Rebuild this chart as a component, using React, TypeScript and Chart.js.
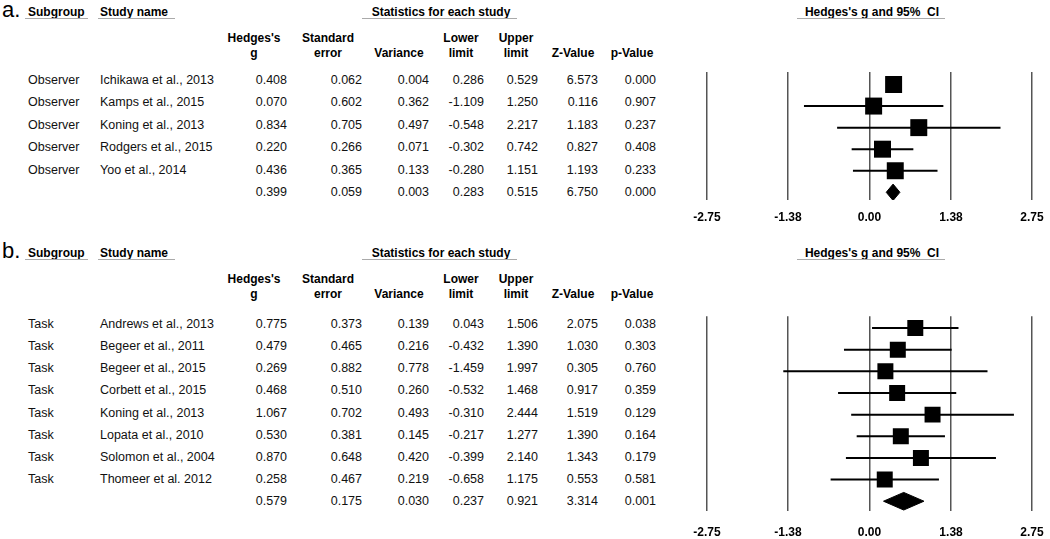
import React, { useEffect, useRef } from "react";
import { Chart, registerables } from "chart.js";

Chart.register(...registerables);

// ---------- DATA ----------
const subgroupA = ["Observer", "Observer", "Observer", "Observer", "Observer"];
const studiesA = ["Ichikawa et al., 2013", "Kamps et al., 2015", "Koning et al., 2013", "Rodgers et al., 2015", "Yoo et al., 2014"];
const hedgesA = [0.408, 0.07, 0.834, 0.22, 0.436];
const seA = [0.062, 0.602, 0.705, 0.266, 0.365];
const varA = [0.004, 0.362, 0.497, 0.071, 0.133];
const lowerA = [0.286, -1.109, -0.548, -0.302, -0.28];
const upperA = [0.529, 1.25, 2.217, 0.742, 1.151];
const zA = [6.573, 0.116, 1.183, 0.827, 1.193];
const pA = [0.0, 0.907, 0.237, 0.408, 0.233];
const summaryA = [0.399, 0.059, 0.003, 0.283, 0.515, 6.75, 0.0]; // g, se, var, low, up, z, p

const subgroupB = ["Task", "Task", "Task", "Task", "Task", "Task", "Task", "Task"];
const studiesB = ["Andrews et al., 2013", "Begeer et al., 2011", "Begeer et al., 2015", "Corbett et al., 2015", "Koning et al., 2013", "Lopata et al., 2010", "Solomon et al., 2004", "Thomeer et al. 2012"];
const hedgesB = [0.775, 0.479, 0.269, 0.468, 1.067, 0.53, 0.87, 0.258];
const seB = [0.373, 0.465, 0.882, 0.51, 0.702, 0.381, 0.648, 0.467];
const varB = [0.139, 0.216, 0.778, 0.26, 0.493, 0.145, 0.42, 0.219];
const lowerB = [0.043, -0.432, -1.459, -0.532, -0.31, -0.217, -0.399, -0.658];
const upperB = [1.506, 1.39, 1.997, 1.468, 2.444, 1.277, 2.14, 1.175];
const zB = [2.075, 1.03, 0.305, 0.917, 1.519, 1.39, 1.343, 0.553];
const pB = [0.038, 0.303, 0.76, 0.359, 0.129, 0.164, 0.179, 0.581];
const summaryB = [0.579, 0.175, 0.03, 0.237, 0.921, 3.314, 0.001];

const xTickValues = [-2.75, -1.38, 0, 1.38, 2.75];
const xTickLabels = ["-2.75", "-1.38", "0.00", "1.38", "2.75"];

const colHeaders = [
  ["Hedges's", "g"],
  ["Standard", "error"],
  ["", "Variance"],
  ["Lower", "limit"],
  ["Upper", "limit"],
  ["", "Z-Value"],
  ["", "p-Value"],
];

// ---------- LAYOUT ----------
const FONT = '"Liberation Sans", Arial, Helvetica, sans-serif';
const W = 1050;
const H = 539;
const colRight = [287, 362, 429, 484, 538, 598, 656];
const colCenter = [254, 328, 399, 461, 516, 573, 632];

Chart.defaults.font.family = FONT;

type ForestProps = {
  g: number[];
  low: number[];
  up: number[];
  summary: number[];
  top: number;
  areaTop: number;
  areaBottom: number;
  firstRow: number;
  spacing: number;
  axisH: number;
  labelPad: number;
  squareR: number;
  diamondHalfPx: number;
};

function Forest(p: ForestProps) {
  const ref = useRef<HTMLCanvasElement | null>(null);
  const left = 690;
  const width = W - left;
  const padTop = p.areaTop - p.top;
  const height = padTop + (p.areaBottom - p.areaTop) + p.axisH;

  useEffect(() => {
    if (!ref.current) return;
    const n = p.g.length;
    const yMin = 1 - (p.firstRow - p.areaTop) / p.spacing;
    const yMax = 1 + (p.areaBottom - p.firstRow) / p.spacing;
    const dh = p.diamondHalfPx / p.spacing;
    const sumRow = n + 1;
    const [sG, , , sLow, sUp] = p.summary;

    const ciSets = p.g.map((_, i) => ({
      data: [
        { x: p.low[i], y: i + 1 },
        { x: p.up[i], y: i + 1 },
      ],
      borderColor: "#000",
      borderWidth: 2,
      pointRadius: 0,
      fill: false,
      order: 3,
    }));
    const squares = {
      data: p.g.map((v, i) => ({ x: v, y: i + 1 })),
      showLine: false,
      pointStyle: "rect",
      pointRadius: p.squareR,
      pointBackgroundColor: "#000",
      pointBorderWidth: 0,
      order: 0,
    };
    const dTop = {
      data: [
        { x: sLow, y: sumRow },
        { x: sG, y: sumRow - dh },
        { x: sUp, y: sumRow },
      ],
      borderColor: "#000",
      borderWidth: 1,
      pointRadius: 0,
      fill: false,
      order: 1,
    };
    const dBot = {
      data: [
        { x: sLow, y: sumRow },
        { x: sG, y: sumRow + dh },
        { x: sUp, y: sumRow },
      ],
      borderColor: "#000",
      borderWidth: 1,
      backgroundColor: "#000",
      pointRadius: 0,
      fill: "-1",
      order: 1,
    };

    const chart = new Chart(ref.current, {
      type: "line",
      data: { datasets: [...ciSets, squares, dTop, dBot] as any },
      options: {
        animation: false,
        responsive: false,
        devicePixelRatio: 1,
        events: [],
        layout: { padding: { left: 17, right: 18, top: padTop, bottom: 0 } },
        plugins: { legend: { display: false }, tooltip: { enabled: false } },
        elements: { line: { tension: 0 } },
        scales: {
          x: {
            type: "linear",
            min: -2.75,
            max: 2.75,
            afterBuildTicks: (s: any) => {
              s.ticks = xTickValues.map((v) => ({ value: v }));
            },
            afterFit: (s: any) => {
              s.paddingLeft = 0;
              s.paddingRight = 0;
              s.height = p.axisH;
            },
            grid: { color: "#555", lineWidth: 1.5, drawTicks: false },
            border: { display: false },
            ticks: {
              padding: p.labelPad,
              color: "#000",
              autoSkip: false,
              maxRotation: 0,
              font: { family: FONT, size: 12, weight: "bold" },
              callback: (_v: any, i: number) => xTickLabels[i],
            },
          },
          y: { type: "linear", display: false, reverse: true, min: yMin, max: yMax },
        },
      } as any,
    });
    return () => chart.destroy();
  }, []);

  return (
    <canvas
      ref={ref}
      width={width}
      height={height}
      style={{ position: "absolute", left, top: p.top, width, height }}
    />
  );
}

const txt = (
  key: string,
  text: string,
  x: number,
  cy: number,
  align: "left" | "right" | "center",
  size: number,
  bold: boolean
) => {
  const base: any = {
    position: "absolute",
    top: cy - 9,
    height: 18,
    lineHeight: "18px",
    fontSize: size,
    fontWeight: bold ? "bold" : "normal",
    whiteSpace: "pre",
    color: bold ? "#000" : "#111",
  };
  if (align === "left") base.left = x;
  else if (align === "right") {
    base.left = x - 120;
    base.width = 120;
    base.textAlign = "right";
  } else {
    base.left = x - 150;
    base.width = 300;
    base.textAlign = "center";
  }
  return (
    <div key={key} style={base}>
      {text}
    </div>
  );
};

const uline = (key: string, x1: number, x2: number, y: number) => (
  <div key={key} style={{ position: "absolute", left: x1, top: y, width: x2 - x1, height: 1, background: "#aaa" }} />
);

function Table(props: {
  letter: string;
  off: number;
  firstRow: number;
  spacing: number;
  subgroup: string[];
  studies: string[];
  cols: number[][];
  summary: number[];
}) {
  const { letter, off, firstRow, spacing, subgroup, studies, cols, summary } = props;
  const els: any[] = [];
  els.push(
    <div
      key="letter"
      style={{ position: "absolute", left: 2, top: off - 1, fontSize: 22, lineHeight: "22px", color: "#000" }}
    >
      {letter}
    </div>
  );
  els.push(txt("sg", "Subgroup", 28, off + 12, "left", 12, true));
  els.push(txt("sn", "Study name", 100, off + 12, "left", 12, true));
  els.push(txt("st", "Statistics for each study", 441, off + 12, "center", 12, true));
  els.push(txt("hg", "Hedges's g and 95%  CI", 872, off + 12, "center", 12, true));
  els.push(uline("u1", 25, 88, off + 18));
  els.push(uline("u2", 98, 175, off + 18));
  els.push(uline("u3", 362, 517, off + 18));
  els.push(uline("u4", 797, 945, off + 18));
  colHeaders.forEach((h, c) => {
    if (h[0]) els.push(txt("h0" + c, h[0], colCenter[c], off + 38, "center", 12, true));
    els.push(txt("h1" + c, h[1], colCenter[c], off + 53, "center", 12, true));
  });
  studies.forEach((s, i) => {
    const cy = firstRow + i * spacing;
    els.push(txt("s" + i, subgroup[i], 28, cy, "left", 12.5, false));
    els.push(txt("n" + i, s, 100, cy, "left", 12.5, false));
    cols.forEach((col, c) => {
      els.push(txt("v" + i + "_" + c, col[i].toFixed(3), colRight[c], cy, "right", 12.5, false));
    });
  });
  const sy = firstRow + studies.length * spacing;
  summary.forEach((v, c) => {
    els.push(txt("sum" + c, v.toFixed(3), colRight[c], sy, "right", 12.5, false));
  });
  return <>{els}</>;
}

export default function App() {
  return (
    <div
      style={{
        position: "absolute",
        left: 0,
        top: 0,
        width: W,
        height: H,
        overflow: "hidden",
        background: "#fff",
        fontFamily: FONT,
      }}
    >
      <Table
        letter="a."
        off={0}
        firstRow={80}
        spacing={22.4}
        subgroup={subgroupA}
        studies={studiesA}
        cols={[hedgesA, seA, varA, lowerA, upperA, zA, pA]}
        summary={summaryA}
      />
      <Forest
        g={hedgesA}
        low={lowerA}
        up={upperA}
        summary={summaryA}
        top={60}
        areaTop={67}
        areaBottom={200}
        firstRow={80}
        spacing={22.4}
        axisH={30}
        labelPad={10}
        squareR={12}
        diamondHalfPx={8.5}
      />
      <Table
        letter="b."
        off={241}
        firstRow={324}
        spacing={22.125}
        subgroup={subgroupB}
        studies={studiesB}
        cols={[hedgesB, seB, varB, lowerB, upperB, zB, pB]}
        summary={summaryB}
      />
      <Forest
        g={hedgesB}
        low={lowerB}
        up={upperB}
        summary={summaryB}
        top={305}
        areaTop={312}
        areaBottom={511}
        firstRow={324}
        spacing={22.125}
        axisH={28}
        labelPad={14}
        squareR={11.3}
        diamondHalfPx={9}
      />
    </div>
  );
}
